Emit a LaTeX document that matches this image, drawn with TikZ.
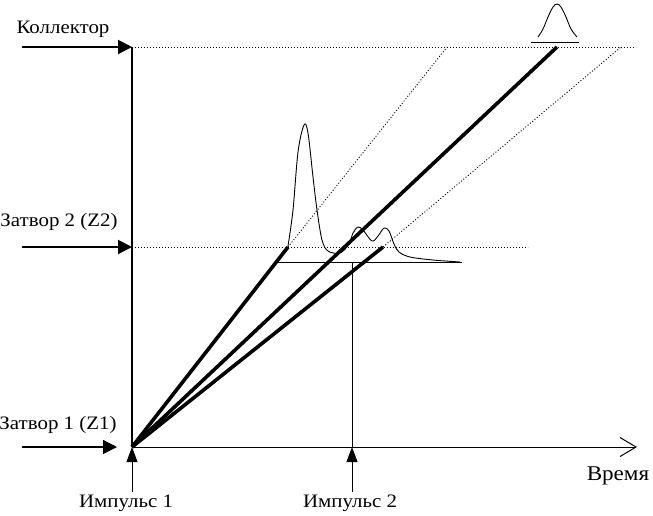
\documentclass[tikz,border=0pt]{standalone}
\usepackage{fontspec}
\setmainfont{Liberation Serif}
\usetikzlibrary{arrows.meta}
\begin{document}
\begin{tikzpicture}[x=1pt,y=-1pt,
  lbl/.style={inner sep=0pt, xscale=1.1, font=\fontsize{19}{19}\selectfont},
  dots/.style={line width=0.9pt, dash pattern=on 1pt off 2pt},
  ray/.style={line width=3.6pt},
  thinline/.style={line width=0.9pt},
  inarrow/.style={-{Triangle[length=14pt,width=14pt]}},
  uparrow/.style={thinline,-{Triangle[length=15pt,width=11pt]}},
  curve/.style={line width=0.9pt}
]
\useasboundingbox (0,0) rectangle (653,515);
% key points
\coordinate (O) at (132,447);
\coordinate (Ktop) at (132,47);
\coordinate (Zt) at (132,247);
\coordinate (kin) at (22,47);
\coordinate (z2in) at (22,247);
\coordinate (z1in) at (22,447);
\coordinate (z1tip) at (117,447);
\coordinate (axend) at (637,447);
\coordinate (i1s) at (132,492);
\coordinate (i2s) at (352,492);
\coordinate (i2t) at (352,447);
\coordinate (i2top) at (352,262);
\coordinate (bl) at (278,262);
\coordinate (br) at (462,262);
\coordinate (dk) at (636,47);
\coordinate (dz) at (528,247);
\coordinate (e1) at (288,247);
\coordinate (e2) at (557,47);
\coordinate (e3) at (383,247);
\coordinate (d1) at (447,47);
\coordinate (d3) at (621,47);
\coordinate (pl) at (531,42);
\coordinate (pr) at (579,42);
% labels
\node[lbl] (lk) at (63,29) {Коллектор};
\node[lbl] (lz2) at (59,222) {Затвор 2 (Z2)};
\node[lbl] (lz1) at (58,425) {Затвор 1 (Z1)};
\node[lbl] (li1) at (126,503) {Импульс 1};
\node[lbl] (li2) at (350,503) {Импульс 2};
\node[lbl, font=\fontsize{21}{21}\selectfont] (lt) at (618,476) {Время};
% dotted guides
\draw[dots] (Ktop) -- (dk);
\draw[dots] (Zt) -- (dz);
\draw[dots] (e1) -- (d1);
\draw[dots] (e3) -- (d3);
% axes
\draw[line width=1.8pt] (Ktop) -- (O);
\draw[line width=1pt, -{Straight Barb[length=16pt,width=19pt]}] (O) -- (axend);
% input arrows
\draw[line width=2pt, inarrow] (kin) -- (Ktop);
\draw[line width=2pt, inarrow] (z2in) -- (Zt);
\draw[line width=1.2pt, inarrow] (z1in) -- (z1tip);
\draw[uparrow] (i1s) -- (O);
\draw[uparrow] (i2s) -- (i2t);
\draw[thinline] (i2t) -- (i2top);
\draw[thinline] (bl) -- (br);
% rays
\draw[ray] (O) -- (e1);
\draw[ray] (O) -- (e2);
\draw[ray] (O) -- (e3);
% collector baseline and peak
\draw[thinline] (pl) -- (pr);
\draw[curve] plot[smooth, tension=0.6] coordinates {(538,37) (543,29) (548,17) (553,7) (557,4) (561,7) (566,17) (571,29) (577,37)};
% gate 2 signal
\draw[curve] plot[smooth, tension=0.55] coordinates {(288,246) (293,210) (298,152) (304,125) (308,133) (313,177) (317,210) (322,240) (328,251) (340,253) (349,244) (353,233) (358,227) (363,230) (372,241) (378,236) (384,228) (389,231) (394,244) (399,252) (410,257) (433,260) (460,262)};
\end{tikzpicture}
\end{document}
